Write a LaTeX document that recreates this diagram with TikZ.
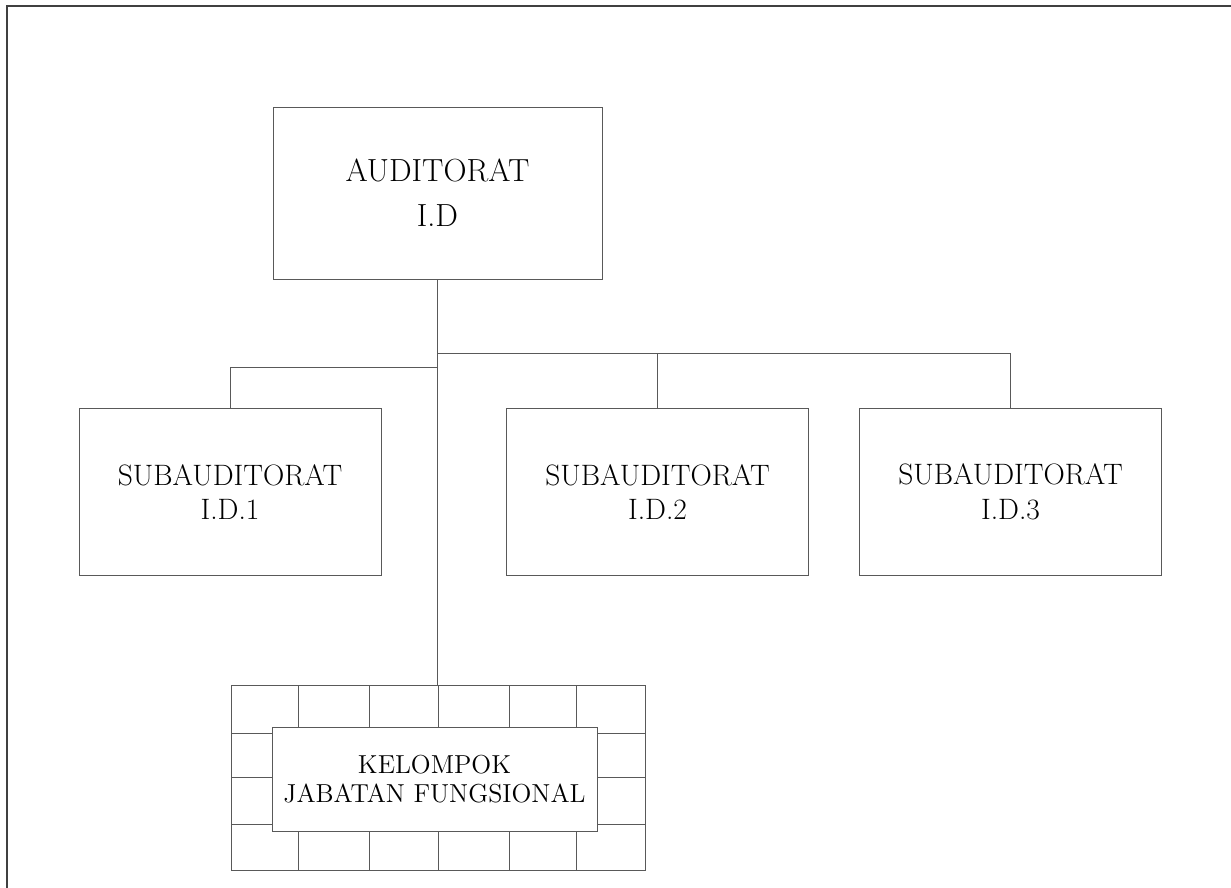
\documentclass[tikz,border=0pt]{standalone}
\usepackage{tikz}
\usetikzlibrary{positioning}

\tikzset{
    unitbox/.style={draw=black!65, line width=0.5pt, fill=white, align=center, inner sep=0pt},
    headbox/.style={unitbox, minimum width=6.58cm, minimum height=3.44cm, font=\fontsize{18.2}{25.6}\selectfont},
    subbox/.style={unitbox, minimum width=6.04cm, minimum height=3.34cm, font=\fontsize{16.8}{19.6}\selectfont},
    groupbox/.style={unitbox, minimum width=6.5cm, minimum height=2.08cm, font=\fontsize{14.8}{16.4}\selectfont},
    link/.style={draw=black!65, line width=0.5pt},
}

\begin{document}
\begin{tikzpicture}[x=0.02cm, y=-0.02cm]

    \useasboundingbox (0,0) rectangle (1231,888);

    % frame
    \draw [black!75, line width=1.1pt] (7,888) -- (7,6) -- (1231,6);

    % head
    \node [headbox] (auditorat) at (437.5,193) {AUDITORAT\\I.D};

    % sub units
    \foreach \n/\x [count=\i] in {1/230,2/657.5,3/1010.5}
        \node [subbox] (sub-\n) at (\x,492) {SUBAUDITORAT\\I.D.\n};

    % grid of the functional group
    \node [draw=black!65, line width=0.5pt, minimum width=8.28cm, minimum height=3.7cm, inner sep=0pt]
        (grid) at (438,777.5) {};
    \foreach \x in {298,369,438,509,576}
        \draw [link] (\x,685) -- (\x,870);
    \foreach \y in {733,777,824}
        \draw [link] (231,\y) -- (645,\y);
    \node [groupbox] (group) at (434.5,779) {KELOMPOK\\JABATAN FUNGSIONAL};

    % lines
    \coordinate (busR) at (438,353);
    \coordinate (busL) at (438,367);
    \draw [link] (auditorat.south) -- (auditorat.south |- grid.north);
    \draw [link] (busR) -| (sub-2.north);
    \draw [link] (busR) -| (sub-3.north);
    \draw [link] (busL) -| (sub-1.north);

\end{tikzpicture}
\end{document}
